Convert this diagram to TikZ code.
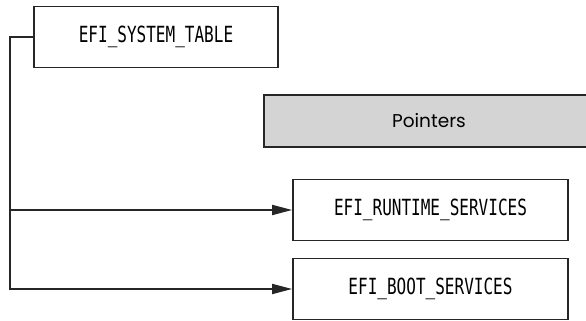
\documentclass[tikz,border=0pt]{standalone}
\usepackage{fontspec}
\setmonofont[FakeStretch=0.72]{DejaVu Sans Mono}
\newfontfamily\labelfont{Poppins}
\usetikzlibrary{positioning,calc,arrows.meta}

\begin{document}
\begin{tikzpicture}[
  x=0.03cm, y=-0.03cm,
  structbox/.style={
    draw=black!85, fill=white, line width=1.5pt,
    text centered, minimum width=7.32cm, minimum height=1.83cm,
    inner sep=3pt, font=\ttfamily\fontsize{19}{21}\selectfont
  },
  ptrbox/.style={
    draw=black!85, fill=black!17, line width=1.5pt,
    minimum width=11cm, minimum height=1.56cm,
    inner sep=3pt
  },
  ptrtext/.style={font=\labelfont\fontsize{15.8}{18}\selectfont},
  wire/.style={black!85, line width=1.5pt},
  arr/.style={wire, -{Triangle[length=0.6cm, width=0.3cm]}},
]
\useasboundingbox (0,0) rectangle (586,321);

%% Structures
\node[structbox] (sys) at (156,37)   {EFI\_SYSTEM\_TABLE};
\node[structbox, minimum width=8.25cm] (rts) at (430.5,210) {EFI\_RUNTIME\_SERVICES};
\node[structbox, minimum width=8.25cm] (bts) at (430.5,289) {EFI\_BOOT\_SERVICES};

%% Pointers band (runs off the right edge)
\node[ptrbox] (ptr) at (447,121) {};
\node[ptrtext] (ptrlbl) at (429,121) {Pointers};

%% Connections
\coordinate (trunk) at (10,37);
\draw[arr] (sys.west) -- (trunk) |- (bts.west);
\draw[arr] (trunk |- rts.west) -- (rts.west);

\end{tikzpicture}
\end{document}
